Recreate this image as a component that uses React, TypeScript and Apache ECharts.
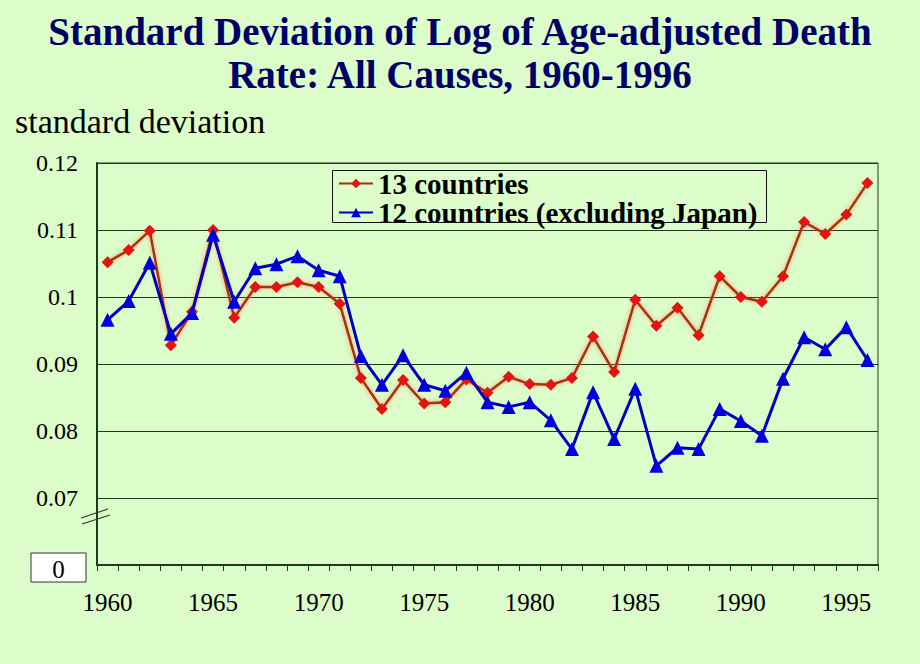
import React, { useEffect, useRef } from "react";
import * as echarts from "echarts";

const years: string[] = [];
for (let y = 1960; y <= 1996; y++) years.push(String(y));

const thirteenCountries = [
  0.1052, 0.1070, 0.1099, 0.0928, 0.0978, 0.1100, 0.0969, 0.1015, 0.1015, 0.1022,
  0.1015, 0.0990, 0.0879, 0.0833, 0.0876, 0.0841, 0.0843, 0.0877, 0.0857, 0.0881,
  0.0870, 0.0869, 0.0879, 0.0941, 0.0888, 0.0996, 0.0957, 0.0984, 0.0943, 0.1031,
  0.1000, 0.0993, 0.1031, 0.1112, 0.1094, 0.1123, 0.1170,
];

const twelveCountries = [
  0.0966, 0.0994, 0.1051, 0.0945, 0.0976, 0.1093, 0.0993, 0.1043, 0.1049, 0.1061,
  0.1040, 0.1031, 0.0912, 0.0869, 0.0913, 0.0869, 0.0860, 0.0887, 0.0843, 0.0836,
  0.0843, 0.0816, 0.0773, 0.0858, 0.0788, 0.0863, 0.0748, 0.0775, 0.0773, 0.0833,
  0.0815, 0.0793, 0.0878, 0.0940, 0.0922, 0.0955, 0.0906,
];

const seriesNames = ["13 countries", "12 countries (excluding Japan)"];
const titleLines = ["Standard Deviation of Log of Age-adjusted Death", "Rate: All Causes, 1960-1996"];
const yAxisTitle = "standard deviation";

const BG = "#DCFCC9";
const GRID = "#1E3A1E";

export default function App() {
  const ref = useRef<HTMLDivElement>(null);
  useEffect(() => {
    document.body.style.margin = "0";
    document.body.style.background = BG;
    document.documentElement.style.background = BG;
    if (!ref.current) return;
    const chart = echarts.init(ref.current, undefined, { renderer: "svg" });
    chart.setOption({
      animation: false,
      backgroundColor: BG,
      title: {
        text: titleLines.join("\n"),
        left: "center",
        top: 5,
        textStyle: {
          fontFamily: "Liberation Serif",
          fontWeight: "bold",
          fontSize: 39,
          lineHeight: 43,
          color: "#000066",
        },
      },
      legend: {
        orient: "vertical",
        left: 332,
        top: 169,
        itemGap: 0,
        itemWidth: 34,
        itemHeight: 12,
        padding: [0, 5, 0, 6],
        backgroundColor: "transparent",
        textStyle: {
          fontFamily: "Liberation Serif",
          fontWeight: "bold",
          fontSize: 29,
          lineHeight: 24,
          height: 24,
          color: "#000",
        },
        data: seriesNames,
      },
      grid: {
        left: 97,
        right: 42,
        top: 163,
        bottom: 99,
        show: true,
        borderColor: GRID,
        borderWidth: 1,
        backgroundColor: "transparent",
      },
      xAxis: {
        type: "category",
        data: years,
        boundaryGap: true,
        axisLine: { show: true, lineStyle: { color: GRID, width: 2 } },
        axisTick: { show: true, interval: 0, length: 6, lineStyle: { color: GRID } },
        axisLabel: {
          interval: 4,
          margin: 25,
          fontFamily: "Liberation Serif",
          fontSize: 25,
          color: "#000",
        },
        splitLine: { show: false },
      },
      yAxis: {
        type: "value",
        min: 0.06,
        max: 0.12,
        interval: 0.01,
        axisLine: { show: true, lineStyle: { color: GRID, width: 2 } },
        axisTick: { show: false },
        axisLabel: {
          margin: 19,
          fontFamily: "Liberation Serif",
          fontSize: 24,
          color: "#000",
          formatter: (v: number) => (v < 0.065 ? "" : String(Number(v.toFixed(2)))),
        },
        splitLine: { show: true, lineStyle: { color: GRID, width: 1.2 } },
      },
      graphic: [
        {
          type: "rect",
          shape: { x: 332.5, y: 170.5, width: 434, height: 52 },
          style: { fill: "none", stroke: "#111", lineWidth: 1 },
          z: 10,
        },
        {
          type: "text",
          left: 15,
          top: 104,
          style: {
            text: yAxisTitle,
            fontFamily: "Liberation Serif",
            fontSize: 34,
            fill: "#000",
          },
        },
        {
          type: "rect",
          shape: { x: 31, y: 553, width: 55, height: 29 },
          style: { fill: "#fff", stroke: "#333", lineWidth: 1 },
        },
        {
          type: "text",
          x: 58.5,
          y: 569,
          style: {
            text: "0",
            fontFamily: "Liberation Serif",
            fontSize: 25,
            fill: "#000",
            align: "center",
            verticalAlign: "middle",
          },
        },
        {
          type: "line",
          shape: { x1: 81, y1: 518, x2: 108, y2: 509 },
          style: { stroke: GRID, lineWidth: 1.3 },
        },
        {
          type: "line",
          shape: { x1: 82, y1: 524, x2: 110, y2: 515 },
          style: { stroke: GRID, lineWidth: 1.3 },
        },
      ],
      series: [
        {
          name: seriesNames[0],
          type: "line",
          data: thirteenCountries,
          symbol: "diamond",
          symbolSize: 12,
          itemStyle: { color: "#E41410" },
          lineStyle: {
            color: "#A8300E",
            width: 2.5,
            shadowColor: "rgba(255,110,70,0.7)",
            shadowBlur: 4,
          },
          z: 3,
        },
        {
          name: seriesNames[1],
          type: "line",
          data: twelveCountries,
          symbol: "triangle",
          symbolSize: 14,
          itemStyle: { color: "#0000DD" },
          lineStyle: { color: "#0000C0", width: 3 },
          z: 4,
        },
      ],
    });
    return () => chart.dispose();
  }, []);
  return <div ref={ref} style={{ width: 920, height: 664 }} />;
}
